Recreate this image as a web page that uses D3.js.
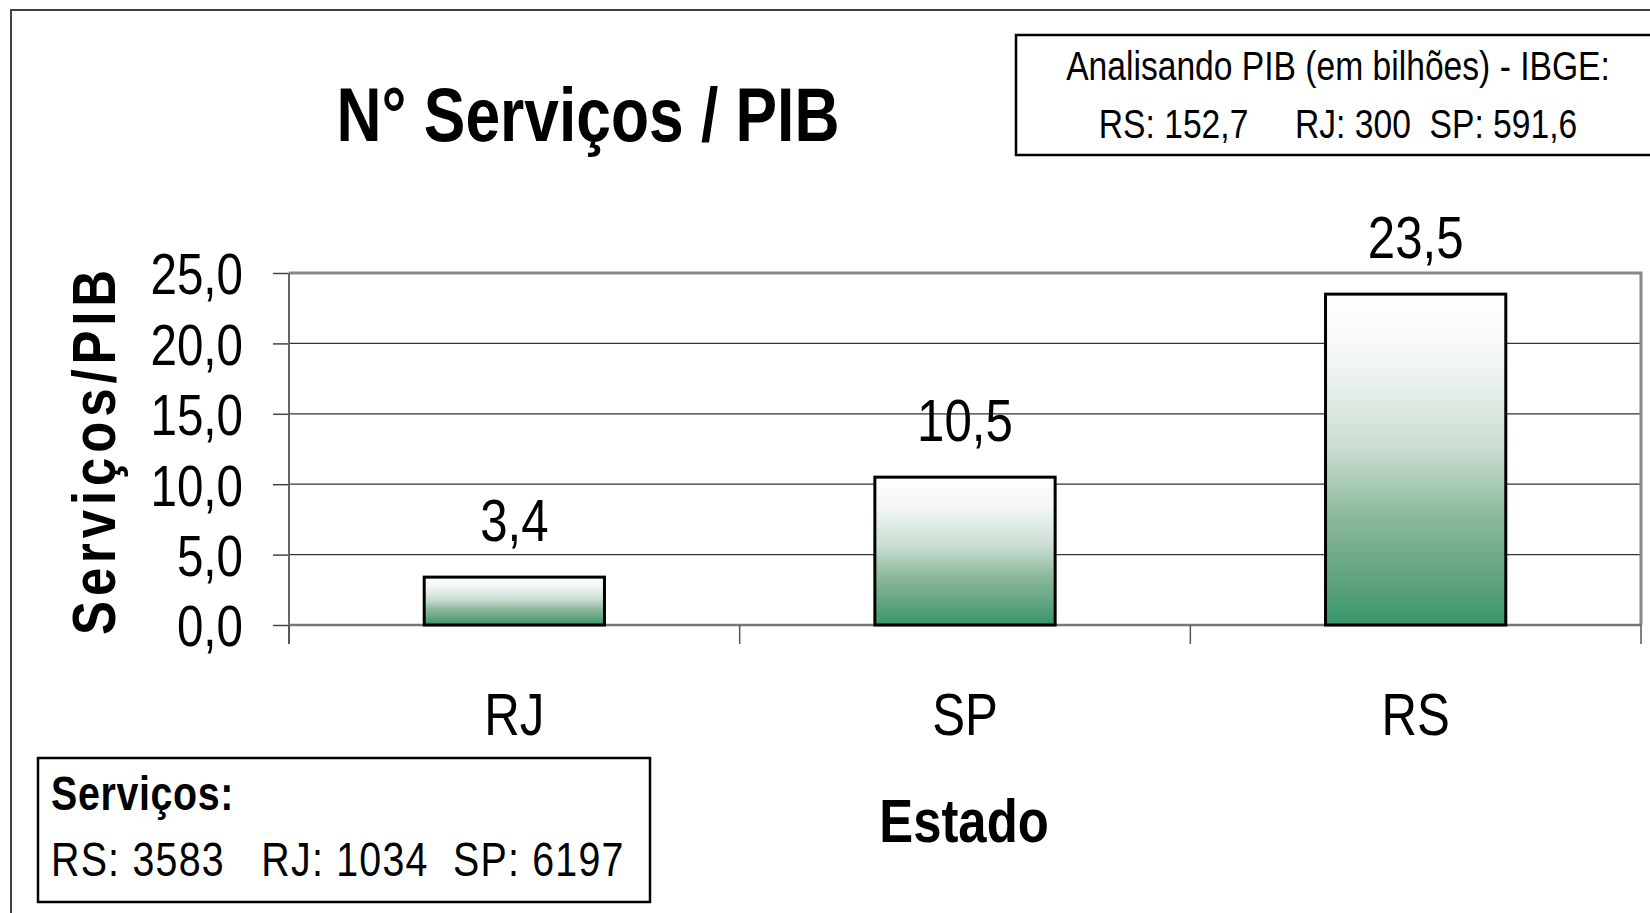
<!DOCTYPE html>
<html>
<head>
<meta charset="utf-8">
<script src="https://cdn.jsdelivr.net/npm/d3@7"></script>
<style>
  body { margin: 0; background: #fff; }
  svg { display: block; }
</style>
</head>
<body>
<svg id="chart" width="1650" height="913"></svg>
<script>
// values
var categories = ["RJ", "SP", "RS"];
var values = [3.4, 10.5, 23.5];
var yTicks = [0, 5, 10, 15, 20, 25];
var pibLines = ["Analisando PIB (em bilhões) - IBGE:", "RS: 152,7\u00a0\u00a0\u00a0\u00a0\u00a0RJ: 300\u00a0\u00a0SP: 591,6"];
var servTitle = "Serviços:";
var servLine = "RS: 3583\u00a0\u00a0\u00a0RJ: 1034\u00a0\u00a0SP: 6197";

var fmt = d3.formatLocale({ decimal: ",", thousands: ".", grouping: [3], currency: ["R$", ""] }).format(".1f");

var svg = d3.select("#chart");
var FONT = '"Liberation Sans", Arial, sans-serif';
var SX = 0.82; // no narrow font installed, squeeze horizontally

// text helper: squeezed text anchored at (x, y)
function ntext(g, x, y, str, size, weight, anchor) {
  return g.append("text")
    .attr("transform", "translate(" + x + "," + y + ") scale(" + SX + ",1)")
    .attr("text-anchor", anchor || "start")
    .attr("font-family", FONT)
    .attr("font-size", size)
    .attr("font-weight", weight || "normal")
    .attr("fill", "#000")
    .text(str);
}

// outer frame
svg.append("rect")
  .attr("x", 11).attr("y", 10)
  .attr("width", 1700).attr("height", 1000)
  .attr("fill", "none").attr("stroke", "#404040").attr("stroke-width", 2);

var pLeft = 289, pRight = 1641, pTop = 273, pBottom = 625;

var x = d3.scaleBand()
  .domain(categories)
  .range([pLeft, pRight])
  .paddingInner(0.6)
  .paddingOuter(0.3);

var y = d3.scaleLinear()
  .domain([0, 25])
  .range([pBottom, pTop]);

// gradient for bars
var grad = svg.append("defs").append("linearGradient")
  .attr("id", "barGrad")
  .attr("x1", 0).attr("y1", 0).attr("x2", 0).attr("y2", 1);
[[0, "#ffffff"], [0.2, "#f3f7f3"], [0.47, "#c9ddd2"], [0.67, "#8cb99b"], [0.88, "#5ba17c"], [1, "#37976a"]]
  .forEach(function (s) {
    grad.append("stop").attr("offset", s[0]).attr("stop-color", s[1]);
  });

// gridlines
svg.append("g")
  .selectAll("line")
  .data(yTicks.filter(function (d) { return d > 0 && d < 25; }))
  .enter().append("line")
  .attr("x1", pLeft).attr("x2", pRight)
  .attr("y1", function (d) { return y(d); })
  .attr("y2", function (d) { return y(d); })
  .attr("stroke", "#333").attr("stroke-width", 1.3);

// plot border top + right (gray)
svg.append("path")
  .attr("d", "M" + pLeft + "," + y(25) + "H" + pRight + "V" + y(0))
  .attr("fill", "none").attr("stroke", "#888").attr("stroke-width", 3);

// y axis
var yAxis = svg.append("g")
  .attr("transform", "translate(" + pLeft + ",0)")
  .call(d3.axisLeft(y).tickValues(yTicks).tickFormat(fmt).tickSize(16));
yAxis.select(".domain").remove();
yAxis.selectAll(".tick line").attr("stroke", "#444").attr("stroke-width", 1.5);
yAxis.selectAll(".tick text")
  .attr("x", null).attr("dy", "0.36em")
  .attr("transform", "translate(-46,0) scale(" + SX + ",1)")
  .attr("font-family", FONT).attr("font-size", 58).attr("fill", "#000");
yAxis.append("line")
  .attr("x1", 0).attr("x2", 0).attr("y1", pTop).attr("y2", 644)
  .attr("stroke", "#666").attr("stroke-width", 2);

// x axis
var xAxis = svg.append("g")
  .attr("transform", "translate(0," + pBottom + ")")
  .call(d3.axisBottom(x).tickSize(0).tickPadding(0));
xAxis.select(".domain").remove();
xAxis.selectAll(".tick text")
  .attr("y", null).attr("dy", null)
  .attr("transform", "translate(0,110) scale(" + SX + ",1)")
  .attr("font-family", FONT).attr("font-size", 60).attr("fill", "#000");
xAxis.append("line")
  .attr("x1", pLeft).attr("x2", pRight).attr("y1", 0).attr("y2", 0)
  .attr("stroke", "#777").attr("stroke-width", 2.5);
xAxis.selectAll(".bound")
  .data(d3.range(categories.length + 1))
  .enter().append("line")
  .attr("class", "bound")
  .attr("x1", function (i) { return pLeft + i * x.step(); })
  .attr("x2", function (i) { return pLeft + i * x.step(); })
  .attr("y1", 0).attr("y2", 19)
  .attr("stroke", "#555").attr("stroke-width", 1.5);

// bars
svg.append("g")
  .selectAll("rect")
  .data(values)
  .enter().append("rect")
  .attr("x", function (d, i) { return x(categories[i]); })
  .attr("y", function (d) { return y(d); })
  .attr("width", x.bandwidth())
  .attr("height", function (d) { return y(0) - y(d); })
  .attr("fill", "url(#barGrad)")
  .attr("stroke", "#000").attr("stroke-width", 3);

// value labels
var lbl = svg.append("g");
values.forEach(function (d, i) {
  ntext(lbl, x(categories[i]) + x.bandwidth() / 2, y(d) - 36, fmt(d), 60, "normal", "middle");
});

// title
ntext(svg, 588, 141, "N° Serviços / PIB", 76, "bold", "middle");

// y axis title
svg.append("text")
  .attr("transform", "translate(115,450) rotate(-90) scale(" + SX + ",1)")
  .attr("text-anchor", "middle")
  .attr("font-family", FONT).attr("font-weight", "bold").attr("font-size", 62)
  .attr("letter-spacing", 6)
  .text("Serviços/PIB");

// x axis title
ntext(svg, 964, 842, "Estado", 62, "bold", "middle");

// PIB box
svg.append("rect")
  .attr("x", 1016).attr("y", 35).attr("width", 700).attr("height", 120)
  .attr("fill", "#fff").attr("stroke", "#000").attr("stroke-width", 2.5);
pibLines.forEach(function (d, i) {
  ntext(svg, 1338, 80 + i * 58, d, 41, "normal", "middle");
});

// Serviços box
svg.append("rect")
  .attr("x", 38).attr("y", 758).attr("width", 612).attr("height", 144)
  .attr("fill", "#fff").attr("stroke", "#000").attr("stroke-width", 2.5);
ntext(svg, 51, 810, servTitle, 48, "bold").attr("letter-spacing", 0.8);
ntext(svg, 51, 876, servLine, 48).attr("letter-spacing", 1.5);
</script>
</body>
</html>
